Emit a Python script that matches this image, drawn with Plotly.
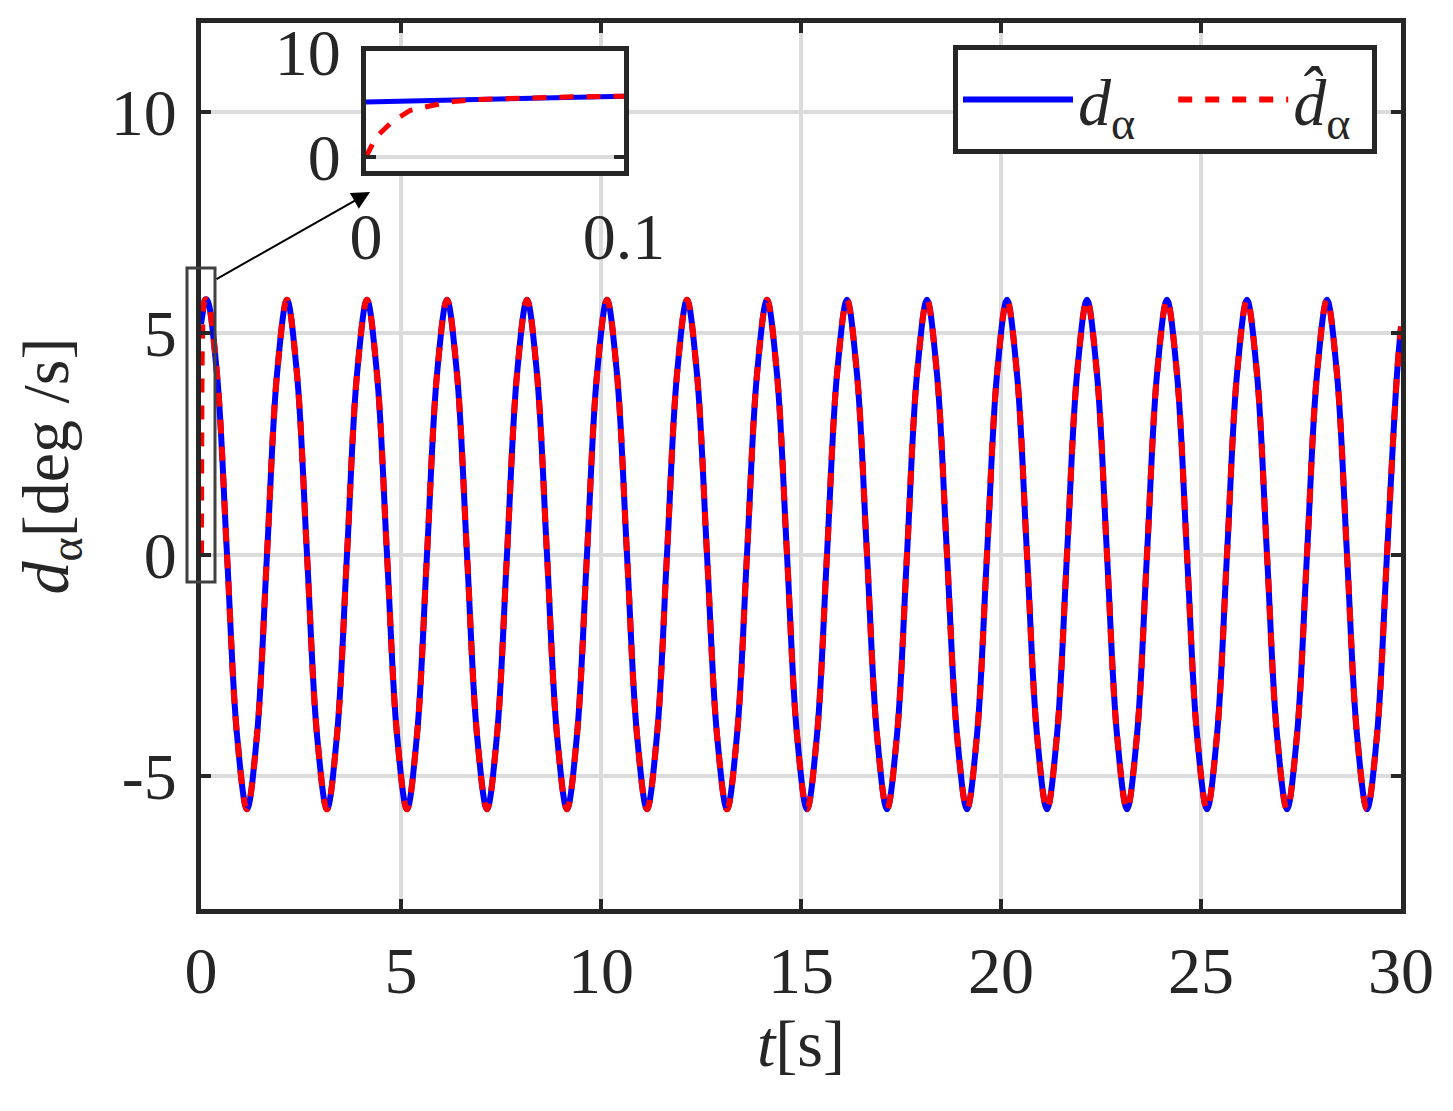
import plotly.graph_objects as go

# ---- data ----
# start of the run (first 0.1 s, also shown in the inset)
t_start = [0.0, 0.05, 0.10]
d_start = [5.20, 5.50, 5.75]
t_hat_start = [0.0, 0.004, 0.010, 0.017, 0.026, 0.034, 0.043, 0.060, 0.080, 0.10]
d_hat_start = [0.0, 1.9, 3.3, 4.4, 4.9, 5.25, 5.45, 5.60, 5.70, 5.75]

# rest of the run: peaks, troughs, zero crossings and mid-slopes
t_rest = [
    0.15, 0.40, 0.65, 0.90, 1.15, 1.40, 1.65, 1.90,
    2.15, 2.40, 2.65, 2.90, 3.15, 3.40, 3.65, 3.90,
    4.15, 4.40, 4.65, 4.90, 5.15, 5.40, 5.65, 5.90,
    6.15, 6.40, 6.65, 6.90, 7.15, 7.40, 7.65, 7.90,
    8.15, 8.40, 8.65, 8.90, 9.15, 9.40, 9.65, 9.90,
    10.15, 10.40, 10.65, 10.90, 11.15, 11.40, 11.65, 11.90,
    12.15, 12.40, 12.65, 12.90, 13.15, 13.40, 13.65, 13.90,
    14.15, 14.40, 14.65, 14.90, 15.15, 15.40, 15.65, 15.90,
    16.15, 16.40, 16.65, 16.90, 17.15, 17.40, 17.65, 17.90,
    18.15, 18.40, 18.65, 18.90, 19.15, 19.40, 19.65, 19.90,
    20.15, 20.40, 20.65, 20.90, 21.15, 21.40, 21.65, 21.90,
    22.15, 22.40, 22.65, 22.90, 23.15, 23.40, 23.65, 23.90,
    24.15, 24.40, 24.65, 24.90, 25.15, 25.40, 25.65, 25.90,
    26.15, 26.40, 26.65, 26.90, 27.15, 27.40, 27.65, 27.90,
    28.15, 28.40, 28.65, 28.90, 29.15, 29.40, 29.65, 29.90,
    30.0,
]
d_rest = [
    5.75, 4.07, 0.0, -4.07, -5.75, -4.07, 0.0, 4.07,
    5.75, 4.07, 0.0, -4.07, -5.75, -4.07, 0.0, 4.07,
    5.75, 4.07, 0.0, -4.07, -5.75, -4.07, 0.0, 4.07,
    5.75, 4.07, 0.0, -4.07, -5.75, -4.07, 0.0, 4.07,
    5.75, 4.07, 0.0, -4.07, -5.75, -4.07, 0.0, 4.07,
    5.75, 4.07, 0.0, -4.07, -5.75, -4.07, 0.0, 4.07,
    5.75, 4.07, 0.0, -4.07, -5.75, -4.07, 0.0, 4.07,
    5.75, 4.07, 0.0, -4.07, -5.75, -4.07, 0.0, 4.07,
    5.75, 4.07, 0.0, -4.07, -5.75, -4.07, 0.0, 4.07,
    5.75, 4.07, 0.0, -4.07, -5.75, -4.07, 0.0, 4.07,
    5.75, 4.07, 0.0, -4.07, -5.75, -4.07, 0.0, 4.07,
    5.75, 4.07, 0.0, -4.07, -5.75, -4.07, 0.0, 4.07,
    5.75, 4.07, 0.0, -4.07, -5.75, -4.07, 0.0, 4.07,
    5.75, 4.07, 0.0, -4.07, -5.75, -4.07, 0.0, 4.07,
    5.75, 4.07, 0.0, -4.07, -5.75, -4.07, 0.0, 4.07,
    5.15,
]

x_ticks = [0, 5, 10, 15, 20, 25, 30]
y_ticks = [-5, 0, 5, 10]
y_tick_text = ["-5", "0", "5", "10"]
inset_x_ticks = [0, 0.1]
inset_x_text = ["0", "0.1"]
inset_y_ticks = [0, 10]

t_main = t_start + t_rest
d_main = d_start + d_rest
t_hat = t_hat_start + t_rest
d_hat = d_hat_start + d_rest

# ---- styling ----
FONT = "Liberation Serif"
FS = 66
DARK = "#262626"
GRID = "#dcdcdc"
BLUE = "#0000ff"
RED = "#ff0000"
DASH = "14px,13px"

fig = go.Figure()
fig.add_trace(go.Scatter(x=t_main, y=d_main, mode="lines", name="<i>d</i><sub>α</sub>  ",
                         line=dict(color=BLUE, width=6, shape="spline"), xaxis="x", yaxis="y"))
fig.add_trace(go.Scatter(x=t_hat, y=d_hat, mode="lines", name="<i>d̂</i><sub>α</sub> ",
                         line=dict(color=RED, width=6, dash=DASH, shape="spline"), xaxis="x", yaxis="y"))
# inset
fig.add_trace(go.Scatter(x=t_start, y=d_start, mode="lines", showlegend=False,
                         line=dict(color=BLUE, width=5), xaxis="x2", yaxis="y2"))
fig.add_trace(go.Scatter(x=t_hat_start, y=d_hat_start, mode="lines", showlegend=False,
                         line=dict(color=RED, width=5, dash=DASH), xaxis="x2", yaxis="y2"))

axis_common = dict(showline=True, linewidth=5, linecolor=DARK, mirror="ticks",
                   ticks="inside", ticklen=10, tickwidth=4, tickcolor=DARK,
                   showgrid=True, gridcolor=GRID, gridwidth=4, zeroline=False,
                   automargin=False,
                   tickfont=dict(family=FONT, size=FS, color=DARK))

# the page adds an 8px body margin, so the figure is offset by (8, 8)
OFF = 8
W, H = 1453 - 2 * OFF, 1111 - 2 * OFF
AREA_L, AREA_R, AREA_T, AREA_B = 201, 1401, 23, 909   # page pixels of the plot area
L, T = AREA_L - OFF, AREA_T - OFF
R = W - (AREA_R - OFF)
B = H - (AREA_B - OFF)
pw, ph = W - L - R, H - T - B

def px_x(px):
    return (px - OFF - L) / pw

def px_y(py):
    return (H - B - (py - OFF)) / ph

fig.update_layout(
    width=W, height=H,
    margin=dict(l=L, r=R, t=T, b=B, autoexpand=False),
    paper_bgcolor="white", plot_bgcolor="white",
    font=dict(family=FONT, size=FS, color=DARK),
    xaxis=dict(range=[0, 30], tickvals=x_ticks, ticklabelstandoff=0,
               title=dict(text="<i>t</i>[s]", font=dict(family=FONT, size=FS), standoff=5),
               **axis_common),
    yaxis=dict(range=[-8, 12], tickvals=y_ticks, ticktext=y_tick_text, ticklabelstandoff=6,
               title=dict(text="<i>d</i><sub>α</sub>[deg /s]", font=dict(family=FONT, size=FS), standoff=22),
               **axis_common),
    xaxis2=dict(domain=[px_x(366), px_x(624)], anchor="y2", range=[0, 0.1],
                tickvals=inset_x_ticks, ticktext=inset_x_text, ticklabelstandoff=4,
                **axis_common),
    yaxis2=dict(domain=[px_y(171), px_y(51)], anchor="x2", range=[-1.35, 10.05],
                tickvals=inset_y_ticks, ticklabelstandoff=7,
                **axis_common),
    legend=dict(orientation="h", x=px_x(953), y=px_y(45), xanchor="left", yanchor="top",
                bgcolor="white", bordercolor=DARK, borderwidth=5,
                font=dict(family=FONT, size=FS, color=DARK), itemwidth=110,
                tracegroupgap=0),
    showlegend=True,
)

# zoom rectangle around the start of the run
fig.add_shape(type="rect", xref="paper", yref="paper",
              x0=px_x(187), x1=px_x(215), y0=px_y(582), y1=px_y(268),
              line=dict(color="#404040", width=3), fillcolor="rgba(0,0,0,0)")
# arrow to the inset
fig.add_annotation(xref="paper", yref="paper", axref="pixel", ayref="pixel",
                   x=px_x(370), y=px_y(192), ax=215 - 370, ay=280 - 192,
                   text="", showarrow=True, arrowhead=2, arrowsize=1.8,
                   arrowwidth=2, arrowcolor="black")

fig.write_html("out.html")
